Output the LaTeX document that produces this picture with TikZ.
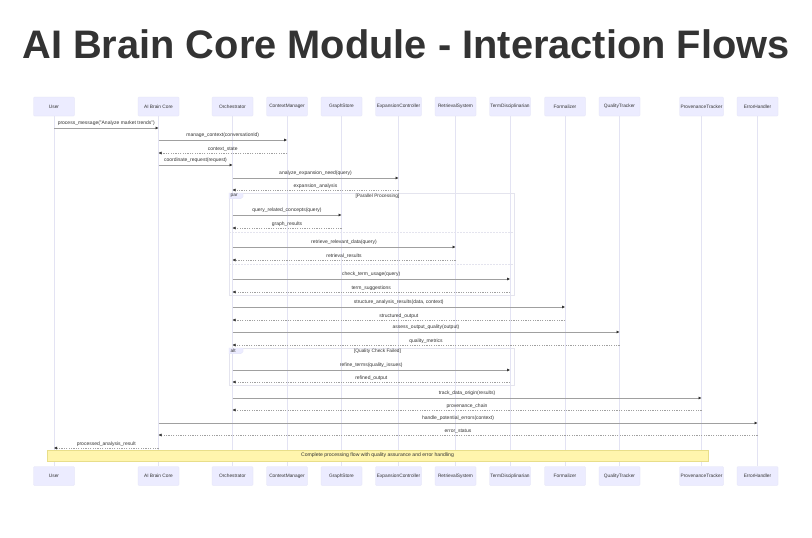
\documentclass[tikz,border=0pt]{standalone}
\usepackage{fontspec}
\setmainfont{Liberation Sans}
\definecolor{actorFill}{HTML}{ECECFF}
\definecolor{actorEdge}{HTML}{E2E2F6}
\definecolor{lifeGray}{HTML}{E3E3F3}
\definecolor{msgGray}{HTML}{A0A0A0}
\definecolor{tipGray}{HTML}{333333}
\definecolor{frameGray}{HTML}{E4E4EE}
\definecolor{noteFill}{HTML}{FFF5AD}
\definecolor{noteEdge}{HTML}{E8DE8A}
\definecolor{titleGray}{HTML}{333333}
\usetikzlibrary{
	arrows.meta,
	positioning,
	calc
}
\tikzset{
	actor/.style={rectangle, rounded corners=1pt, fill=actorFill, draw=actorEdge, line width=0.3pt,
		minimum height=19pt, inner sep=0pt, font=\fontsize{4.8}{5.5}\selectfont, text=titleGray},
	lifeline/.style={draw=lifeGray, line width=0.8pt},
	callline/.style={draw=msgGray, line width=0.8pt, -{Triangle[length=3pt,width=2.6pt,color=tipGray]}},
	backline/.style={draw=msgGray, line width=0.45pt, dash pattern=on 1.2pt off 1.2pt,
		-{Triangle[length=3pt,width=2.6pt,color=tipGray]}},
	msglabel/.style={above, inner sep=1.6pt, font=\fontsize{5}{6}\selectfont, text=titleGray},
	framebox/.style={draw=frameGray, line width=0.5pt},
	framesep/.style={draw=frameGray, line width=0.5pt, dash pattern=on 1.5pt off 1.5pt},
	frametag/.style={fill=actorFill, draw=actorEdge, line width=0.3pt},
	smalltext/.style={font=\fontsize{4.8}{5.5}\selectfont, text=titleGray, inner sep=0pt}
}
% message between two lifelines at height #3
\newcommand{\callmsg}[4]{%
	\coordinate (msgy) at (0,#3);
	\draw[callline] (#1-top |- msgy) -- node[msglabel]{#4} (#2-top |- msgy);}
\newcommand{\replymsg}[4]{%
	\coordinate (msgy) at (0,#3);
	\draw[backline] (#1-top |- msgy) -- node[msglabel]{#4} (#2-top |- msgy);}
% combined fragment frame: left, right, top, bottom, tag, label
\newcommand{\fragbox}[6]{%
	\draw[framebox] (#1,#3) rectangle (#2,#4);
	\draw[frametag] (#1,#3) -- ++(14,0) -- ++(0,3.8) -- ++(-2.4,2) -- (#1,#3+5.8) -- cycle;
	\node[smalltext, anchor=west] at (#1+1.5,#3+2.9) {#5};
	\node[smalltext] at ({(#1+#2)/2+6},#3+3.6) {#6};}

\begin{document}
\begin{tikzpicture}[x=1pt, y=-1pt]
	\fill[white] (0,0) rectangle (812,538);
	\useasboundingbox (0,0) rectangle (812,538);

	\node[font=\fontsize{39.8}{44}\selectfont\bfseries, text=titleGray] (title) at (406,44) {AI Brain Core Module - Interaction Flows};

	% participants and lifelines
	\foreach \id/\x/\w/\name in {user/54/41/User, core/158.5/41/AI Brain Core, orch/232.5/41/Orchestrator,
		ctx/287/41/ContextManager, graph/341.5/41/GraphStore, expand/398.5/46/ExpansionController,
		retr/455.5/41/RetrievalSystem, term/510/41/TermDisciplinarian, form/565/41/Formalizer,
		qual/619.5/41/QualityTracker, prov/701.5/44/ProvenanceTracker, err/757.5/41/ErrorHandler}{
		\node[actor, minimum width=\w pt] (\id-top) at (\x,106.5) {\name};
		\node[actor, minimum width=\w pt] (\id-bot) at (\x,476) {\name};
		\draw[lifeline] (\id-top) -- (\id-bot);
	}

	% fragments
	\fragbox{229}{514}{193}{295}{par}{[Parallel Processing]}
	\draw[framesep] (229,232) -- (514,232);
	\draw[framesep] (229,264) -- (514,264);
	\fragbox{229}{514}{348}{385}{alt}{[Quality Check Failed]}

	% messages
	\callmsg{user}{core}{128}{process\_message("Analyze market trends")}
	\callmsg{core}{ctx}{140}{manage\_context(conversationId)}
	\replymsg{ctx}{core}{153}{context\_state}
	\callmsg{core}{orch}{165}{coordinate\_request(request)}
	\callmsg{orch}{expand}{178}{analyze\_expansion\_need(query)}
	\replymsg{expand}{orch}{190}{expansion\_analysis}
	\callmsg{orch}{graph}{215}{query\_related\_concepts(query)}
	\replymsg{graph}{orch}{228}{graph\_results}
	\callmsg{orch}{retr}{247}{retrieve\_relevant\_data(query)}
	\replymsg{retr}{orch}{260}{retrieval\_results}
	\callmsg{orch}{term}{279}{check\_term\_usage(query)}
	\replymsg{term}{orch}{292}{term\_suggestions}
	\callmsg{orch}{form}{307}{structure\_analysis\_results(data, context)}
	\replymsg{form}{orch}{320}{structured\_output}
	\callmsg{orch}{qual}{332}{assess\_output\_quality(output)}
	\replymsg{qual}{orch}{345}{quality\_metrics}
	\callmsg{orch}{term}{370}{refine\_terms(quality\_issues)}
	\replymsg{term}{orch}{382}{refined\_output}
	\callmsg{orch}{prov}{398}{track\_data\_origin(results)}
	\replymsg{prov}{orch}{410}{provenance\_chain}
	\callmsg{core}{err}{423}{handle\_potential\_errors(context)}
	\replymsg{err}{core}{435}{error\_status}
	\replymsg{core}{user}{448}{processed\_analysis\_result}

	% note
	\node[rectangle, fill=noteFill, draw=noteEdge, line width=0.4pt, minimum width=661pt, minimum height=11pt,
		inner sep=0pt, font=\fontsize{5.1}{6}\selectfont, text=titleGray] (flownote) at (377.5,455.5)
		{Complete processing flow with quality assurance and error handling};
\end{tikzpicture}
\end{document}
